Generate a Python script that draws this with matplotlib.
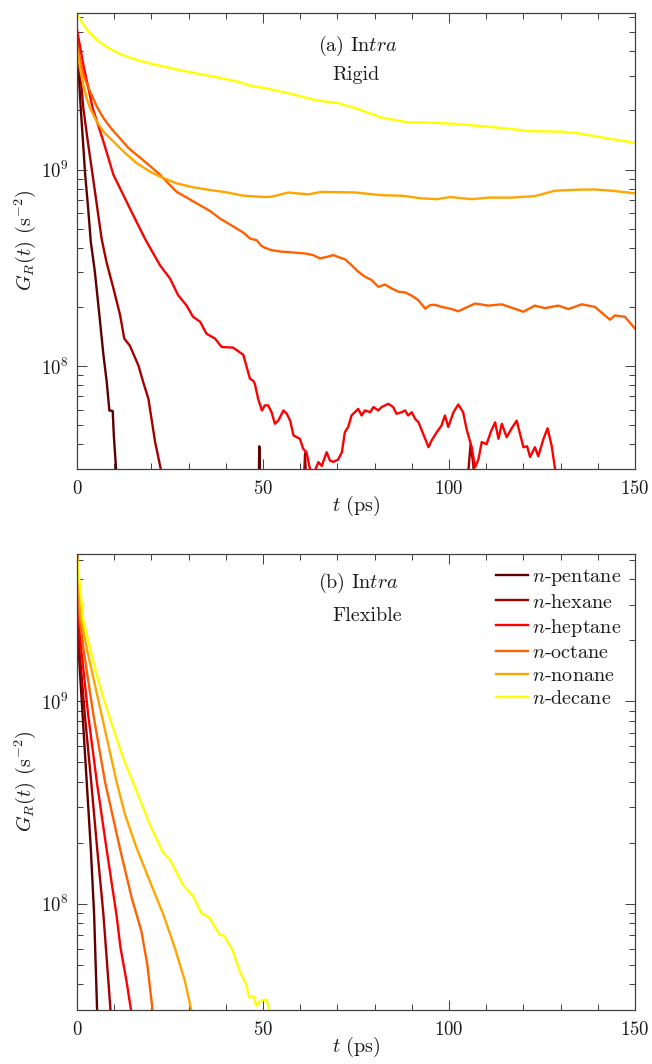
import numpy as np
import matplotlib
matplotlib.use("Agg")
import matplotlib.pyplot as plt
from matplotlib.ticker import MultipleLocator, LogLocator, NullFormatter

plt.rcParams['font.family'] = 'serif'
plt.rcParams['font.serif'] = ['cmr10']
plt.rcParams['mathtext.fontset'] = 'cm'
plt.rcParams['axes.formatter.use_mathtext'] = True
plt.rcParams['axes.unicode_minus'] = False

NAN = float('nan')

series_names = ['$n$-pentane', '$n$-hexane', '$n$-heptane', '$n$-octane', '$n$-nonane', '$n$-decane']
colors = ['#5e0000', '#a50000', '#ff0000', '#ff6000', '#ffa500', '#ffff00']

# ---- (a) Intra, Rigid : (t [ps], G_R [s^-2])
pentane_rigid = [(0, 4.4e9), (1.0, 2.06e9), (2.2, 0.94e9), (3.0, 0.635e9), (3.7, 0.43e9), (4.8, 0.302e9),
                 (6.2, 0.168e9), (7.1, 0.114e9), (8.0, 0.0828e9), (8.7, 0.0594e9), (9.6, 0.059e9),
                 (9.9, 0.0443e9), (10.5, 0.03e9), (10.8, 0.02e9), (30, NAN),
                 (48.8, 0.02e9), (49.0, 0.039e9), (49.3, 0.02e9)]
hexane_rigid = [(0, 5.0e9), (0.8, 3.2e9), (1.7, 2.06e9), (3.0, 1.35e9), (4.8, 0.78e9), (6.6, 0.446e9),
                (7.9, 0.34e9), (9.8, 0.248e9), (11.6, 0.181e9), (12.7, 0.138e9), (14.2, 0.127e9),
                (15.1, 0.116e9), (16.5, 0.1007e9), (17.8, 0.0828e9), (19.2, 0.068e9), (21.0, 0.041e9),
                (22.5, 0.03e9), (23.0, 0.02e9), (40, NAN),
                (60.8, 0.02e9), (61.3, 0.036e9), (61.8, 0.02e9), (80, NAN),
                (104.5, 0.02e9), (105.8, 0.040e9), (106.5, 0.032e9), (107.2, 0.02e9)]
heptane_rigid = [(0, 5.15e9), (1.7, 3.42e9), (4.2, 2.06e9), (7.1, 1.39e9), (9.8, 0.94e9), (14.2, 0.635e9),
                 (18.4, 0.44e9), (22.3, 0.326e9), (25.0, 0.279e9), (27.2, 0.229e9), (29.4, 0.204e9),
                 (31.2, 0.178e9), (33.1, 0.168e9), (34.8, 0.146e9), (37.1, 0.138e9), (38.9, 0.125e9),
                 (42.0, 0.124e9), (44.7, 0.114e9), (46.5, 0.0861e9), (47.4, 0.084e9), (47.8, 0.0813e9),
                 (48.7, 0.068e9), (49.7, 0.0594e9), (50.5, 0.063e9), (51.4, 0.063e9), (52.3, 0.0582e9),
                 (53.2, 0.0508e9), (54.1, 0.0527e9), (55.5, 0.0594e9), (56.4, 0.0571e9), (57.3, 0.0527e9),
                 (58.2, 0.0443e9), (59.1, 0.0434e9), (59.9, 0.0426e9), (60.8, 0.0379e9), (61.7, 0.0364e9),
                 (62.6, 0.03e9), (63.5, 0.028e9), (64.9, 0.0324e9), (65.8, 0.031e9), (67.1, 0.0364e9),
                 (68.0, 0.033e9), (68.9, 0.0325e9), (70.2, 0.0334e9), (71.2, 0.0364e9), (72.0, 0.046e9),
                 (72.9, 0.0489e9), (73.8, 0.056e9), (74.7, 0.0582e9), (75.6, 0.0605e9), (76.5, 0.056e9),
                 (77.4, 0.0594e9), (78.8, 0.0582e9), (79.7, 0.0618e9), (81.0, 0.0594e9), (81.9, 0.0618e9),
                 (83.7, 0.0642e9), (85.0, 0.0618e9), (85.9, 0.0571e9), (87.3, 0.0582e9), (88.2, 0.0594e9),
                 (89.0, 0.056e9), (90.0, 0.0582e9), (90.9, 0.0538e9), (91.8, 0.0517e9), (92.7, 0.0469e9),
                 (93.6, 0.0426e9), (94.5, 0.0386e9), (95.3, 0.0417e9), (96.7, 0.046e9), (98.0, 0.0498e9),
                 (98.9, 0.056e9), (99.8, 0.0489e9), (101.2, 0.0582e9), (102.5, 0.0637e9),
                 (103.8, 0.0582e9), (104.7, 0.0479e9), (106.1, 0.0386e9), (107.0, 0.0305e9),
                 (107.9, 0.0334e9), (108.8, 0.041e9), (110.1, 0.040e9), (111.2, 0.046e9),
                 (112.4, 0.0517e9), (113.3, 0.0426e9), (114.2, 0.0508e9), (115.5, 0.0434e9),
                 (116.8, 0.048e9), (118.2, 0.0527e9), (120.0, 0.0386e9), (121.0, 0.039e9),
                 (121.8, 0.0344e9), (123.1, 0.0386e9), (124.0, 0.0347e9), (125.4, 0.0426e9),
                 (126.5, 0.0482e9), (127.6, 0.0392e9), (128.5, 0.03e9), (129.0, 0.025e9)]
octane_rigid = [(0, 4.4e9), (1.7, 3.04e9), (3.5, 2.50e9), (5.3, 2.10e9), (7.1, 1.83e9), (9.3, 1.61e9),
                (11.6, 1.44e9), (13.8, 1.29e9), (16.0, 1.19e9), (18.7, 1.08e9), (21.9, 0.958e9),
                (25.0, 0.834e9), (26.8, 0.77e9), (29.5, 0.72e9), (32.2, 0.673e9), (35.8, 0.615e9),
                (38.4, 0.564e9), (41.1, 0.526e9), (43.0, 0.50e9), (44.7, 0.478e9), (46.5, 0.446e9),
                (48.3, 0.437e9), (49.5, 0.41e9), (50.5, 0.40e9), (52.3, 0.389e9), (55.0, 0.382e9),
                (57.7, 0.379e9), (61.3, 0.374e9), (63.5, 0.367e9), (65.3, 0.353e9), (67.1, 0.359e9),
                (68.9, 0.367e9), (70.7, 0.356e9), (72.0, 0.35e9), (73.8, 0.326e9), (75.6, 0.302e9),
                (77.4, 0.285e9), (79.2, 0.274e9), (81.0, 0.253e9), (82.8, 0.26e9), (84.6, 0.248e9),
                (86.4, 0.239e9), (88.2, 0.237e9), (90.0, 0.228e9), (91.8, 0.216e9), (93.6, 0.196e9),
                (94.9, 0.204e9), (96.2, 0.205e9), (98.0, 0.200e9), (100.3, 0.196e9), (102.5, 0.19e9),
                (107.0, 0.208e9), (110.6, 0.203e9), (114.2, 0.206e9), (120.0, 0.189e9), (123.1, 0.203e9),
                (125.8, 0.197e9), (129.4, 0.203e9), (132.1, 0.195e9), (135.7, 0.206e9), (139.2, 0.200e9),
                (143.3, 0.172e9), (144.6, 0.181e9), (147.3, 0.178e9), (150.0, 0.155e9)]
nonane_rigid = [(0, 4.16e9), (0.8, 3.29e9), (1.7, 2.70e9), (2.6, 2.31e9), (3.5, 2.06e9), (5.3, 1.76e9),
                (7.1, 1.56e9), (9.8, 1.39e9), (12.4, 1.24e9), (16.0, 1.08e9), (19.6, 0.977e9),
                (22.3, 0.921e9), (26.8, 0.851e9), (31.3, 0.812e9), (35.8, 0.787e9), (40.2, 0.766e9),
                (44.7, 0.736e9), (50.5, 0.725e9), (52.3, 0.728e9), (56.8, 0.764e9), (62.2, 0.748e9),
                (65.7, 0.77e9), (74.7, 0.765e9), (81.9, 0.741e9), (87.3, 0.736e9), (92.6, 0.714e9),
                (96.7, 0.707e9), (100.3, 0.725e9), (106.1, 0.707e9), (110.6, 0.72e9), (116.8, 0.72e9),
                (123.1, 0.733e9), (128.5, 0.781e9), (134.8, 0.79e9), (139.2, 0.792e9), (143.7, 0.781e9),
                (150.0, 0.757e9)]
decane_rigid = [(0, 6.2e9), (1.7, 5.47e9), (3.5, 4.95e9), (5.3, 4.58e9), (7.1, 4.32e9), (8.9, 4.12e9),
                (11.6, 3.87e9), (16.0, 3.62e9), (20.5, 3.44e9), (25.0, 3.29e9), (29.5, 3.16e9),
                (34.0, 3.04e9), (38.4, 2.93e9), (43.0, 2.81e9), (46.5, 2.68e9), (50.5, 2.60e9),
                (56.8, 2.45e9), (64.0, 2.26e9), (70.2, 2.18e9), (74.7, 2.06e9), (81.9, 1.84e9),
                (89.0, 1.74e9), (92.6, 1.74e9), (98.9, 1.72e9), (103.4, 1.70e9), (109.6, 1.66e9),
                (116.8, 1.61e9), (121.3, 1.57e9), (130.2, 1.56e9), (134.8, 1.53e9), (139.2, 1.48e9),
                (143.7, 1.43e9), (150.0, 1.37e9)]

# ---- (b) Intra, Flexible
pentane_flex = [(0, 5.2e9), (0.2, 2.6e9), (0.4, 1.83e9), (1.5, 0.859e9), (2.6, 0.403e9), (3.7, 0.189e9),
                (4.6, 0.0886e9), (5.4, 0.03e9), (5.5, 0.025e9)]
hexane_flex = [(0, 5.2e9), (0.3, 2.6e9), (0.6, 1.83e9), (2.1, 0.859e9), (3.8, 0.403e9), (5.4, 0.189e9),
               (7.1, 0.0886e9), (8.1, 0.0502e9), (9.0, 0.03e9), (9.2, 0.025e9)]
heptane_flex = [(0, 5.2e9), (0.5, 2.6e9), (1.1, 1.83e9), (3.0, 0.859e9), (5.3, 0.403e9), (7.9, 0.189e9),
                (10.6, 0.0886e9), (11.7, 0.0606e9), (13.3, 0.0416e9), (14.5, 0.03e9), (14.7, 0.025e9)]
octane_flex = [(0, 5.2e9), (0.7, 2.6e9), (1.7, 1.83e9), (4.4, 0.859e9), (7.5, 0.403e9), (11.5, 0.189e9),
               (14.7, 0.107e9), (17.3, 0.0733e9), (18.9, 0.0502e9), (20.3, 0.03e9), (20.5, 0.025e9)]
nonane_flex = [(0, 5.2e9), (1.0, 2.6e9), (2.6, 1.83e9), (6.6, 0.859e9), (10.6, 0.403e9), (12.9, 0.276e9),
               (16.0, 0.189e9), (19.6, 0.129e9), (23.2, 0.0886e9), (26.3, 0.0606e9), (29.0, 0.0416e9),
               (30.7, 0.03e9), (31.0, 0.025e9)]
decane_flex = [(0, 5.2e9), (1.7, 2.5e9), (3.5, 1.83e9), (5.3, 1.35e9), (7.1, 1.04e9), (9.7, 0.738e9),
               (12.4, 0.525e9), (16.0, 0.36e9), (19.6, 0.246e9), (23.1, 0.179e9), (24.9, 0.166e9),
               (28.5, 0.124e9), (31.2, 0.109e9), (33.4, 0.0903e9), (35.6, 0.0853e9), (38.3, 0.0706e9),
               (39.6, 0.0693e9), (41.9, 0.0585e9), (43.7, 0.0466e9), (45.5, 0.04e9), (46.3, 0.0344e9),
               (47.5, 0.035e9), (48.2, 0.0313e9), (49.1, 0.0331e9), (50.9, 0.0337e9), (51.7, 0.03e9),
               (52.0, 0.025e9)]

rigid = [pentane_rigid, hexane_rigid, heptane_rigid, octane_rigid, nonane_rigid, decane_rigid]
flex = [pentane_flex, hexane_flex, heptane_flex, octane_flex, nonane_flex, decane_flex]

fig = plt.figure(figsize=(6.52, 10.64), dpi=100)
W, H = 652, 1064
ax1 = fig.add_axes([77 / W, 1 - 468.7 / H, 558 / W, 455.7 / H])
ax2 = fig.add_axes([77 / W, 1 - 1009.7 / H, 558 / W, 456 / H])

txtc = '#1a1a1a'
spc = '#404040'
FS = 14.5
for ax, data, ylim in [(ax1, rigid, (3e7, 6.27e9)), (ax2, flex, (3e7, 5.35e9))]:
    for d, c, lab in zip(data, colors, series_names):
        t = [p[0] for p in d]
        g = [p[1] for p in d]
        ax.plot(t, g, color=c, lw=1.7, label=lab, solid_joinstyle='round')
    ax.set_yscale('log')
    ax.set_xlim(0, 150)
    ax.set_ylim(*ylim)
    ax.xaxis.set_major_locator(MultipleLocator(50))
    ax.xaxis.set_minor_locator(MultipleLocator(10))
    ax.yaxis.set_major_locator(LogLocator(base=10))
    ax.yaxis.set_minor_locator(LogLocator(base=10, subs=np.arange(2, 10)))
    ax.yaxis.set_minor_formatter(NullFormatter())
    ax.tick_params(which='both', direction='in', top=True, right=True, color=spc, width=0.7,
                   labelsize=13.5, labelcolor=txtc)
    ax.tick_params(which='major', length=7.5)
    ax.tick_params(which='minor', length=4)
    ax.tick_params(axis='x', pad=8)
    ax.tick_params(axis='y', pad=6)
    for s in ax.spines.values():
        s.set_color(spc)
        s.set_linewidth(0.9)
    ax.set_xlabel('$t$ (ps)', fontsize=FS, color=txtc)
    ax.set_ylabel('$G_R(t)$ (s$^{-2}$)', fontsize=FS, color=txtc)
    ax.xaxis.set_label_coords(0.5, -0.056)
    ax.yaxis.set_label_coords(-0.07, 0.5)

ax1.text(0.432, 0.928, '(a) In$tra$', transform=ax1.transAxes, fontsize=FS, color=txtc, ha='left', va='center')
ax1.text(0.457, 0.864, 'Rigid', transform=ax1.transAxes, fontsize=FS, color=txtc, ha='left', va='center')
ax2.text(0.432, 0.936, '(b) In$tra$', transform=ax2.transAxes, fontsize=FS, color=txtc, ha='left', va='center')
ax2.text(0.457, 0.863, 'Flexible', transform=ax2.transAxes, fontsize=FS, color=txtc, ha='left', va='center')

leg = ax2.legend(loc='upper right', bbox_to_anchor=(0.975, 0.970), frameon=False, fontsize=FS,
                 handlelength=1.59, handletextpad=0.2, labelspacing=0.25, borderpad=0, borderaxespad=0)
for tx in leg.get_texts():
    tx.set_color(txtc)

fig.savefig('out.png', dpi=100)
